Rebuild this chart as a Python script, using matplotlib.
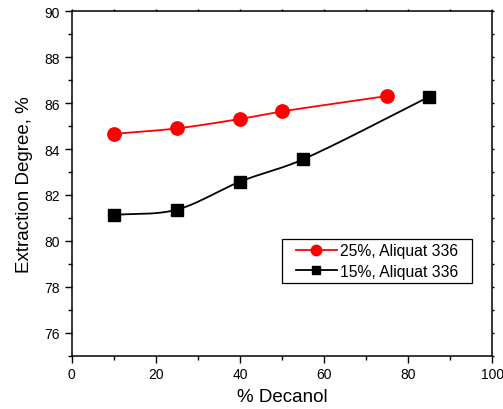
import numpy as np
import matplotlib
matplotlib.use("Agg")
import matplotlib.pyplot as plt
from matplotlib.ticker import MultipleLocator
from matplotlib.patches import Rectangle

plt.rcParams['font.family'] = ['Liberation Sans', 'DejaVu Sans']

# data
decanol_25 = [10, 25, 40, 50, 75]
extraction_25 = [84.66, 84.90, 85.31, 85.64, 86.31]
decanol_15 = [10, 25, 40, 55, 85]
extraction_15 = [81.13, 81.36, 82.58, 83.55, 86.28]
labels = ["25%, Aliquat 336", "15%, Aliquat 336"]


# hermite curve through the points (catmull-rom style tangents), only for the connecting line
def smooth_line(x, y, n=200):
    x = np.asarray(x, float)
    y = np.asarray(y, float)
    h = np.diff(x)
    m = np.empty_like(y)
    m[0] = (y[1] - y[0]) / h[0]
    m[-1] = (y[-1] - y[-2]) / h[-1]
    m[1:-1] = (y[2:] - y[:-2]) / (x[2:] - x[:-2])
    xs = np.linspace(x[0], x[-1], n)
    idx = np.clip(np.searchsorted(x, xs, side='right') - 1, 0, len(x) - 2)
    t = (xs - x[idx]) / h[idx]
    h00 = 2 * t ** 3 - 3 * t ** 2 + 1
    h10 = t ** 3 - 2 * t ** 2 + t
    h01 = -2 * t ** 3 + 3 * t ** 2
    h11 = t ** 3 - t ** 2
    ys = h00 * y[idx] + h10 * h[idx] * m[idx] + h01 * y[idx + 1] + h11 * h[idx] * m[idx + 1]
    return xs, ys


fig = plt.figure(figsize=(5.03, 4.10), dpi=100)
ax = fig.add_axes([0.1425, 0.13, 0.836, 0.84])

sx, sy = smooth_line(decanol_25, extraction_25)
ax.plot(sx, sy, color="red", lw=1.3)
ax.plot(decanol_25, extraction_25, "o", color="red", ms=9.6)
sx, sy = smooth_line(decanol_15, extraction_15)
ax.plot(sx, sy, color="black", lw=1.3)
ax.plot(decanol_15, extraction_15, "s", color="black", ms=8.6)

# legend: frame drawn by hand, entries placed inside it
ax.add_patch(Rectangle((0.500, 0.211), 0.452, 0.128, transform=ax.transAxes,
                       fill=True, facecolor="white", edgecolor="black", lw=0.9, zorder=4))
h1, = ax.plot([], [], "-o", color="red", ms=7.5, lw=1.3)
h2, = ax.plot([], [], "-s", color="black", ms=5.5, lw=1.3)
ax.legend([h1, h2], labels, loc="center left", bbox_to_anchor=(0.533, 0.275),
          borderaxespad=0, borderpad=0, frameon=False, fontsize=11.3,
          handlelength=2.6, handletextpad=0.2, labelspacing=0.35)

ax.set_xlim(0, 100)
ax.set_ylim(75, 90)
ax.xaxis.set_major_locator(MultipleLocator(20))
ax.xaxis.set_minor_locator(MultipleLocator(10))
ax.yaxis.set_major_locator(MultipleLocator(2))
ax.yaxis.set_minor_locator(MultipleLocator(1))
ax.tick_params(which="both", direction="out", top=True, right=True, labelsize=10, width=1)
ax.tick_params(which="major", length=4.8)
ax.tick_params(which="minor", length=2.8)
# tiny ticks on the top and right frame
for tl in ax.xaxis.get_ticklines(minor=False)[1::2] + ax.xaxis.get_ticklines(minor=True)[1::2]:
    tl.set_markersize(1.2)
for tl in ax.yaxis.get_ticklines(minor=False)[1::2] + ax.yaxis.get_ticklines(minor=True)[1::2]:
    tl.set_markersize(1.2)
for s in ax.spines.values():
    s.set_linewidth(1.1)

ax.set_xlabel("% Decanol", fontsize=13.5, labelpad=5)
ax.set_ylabel("Extraction Degree, %", fontsize=13.5, labelpad=8)

fig.savefig("out.png", dpi=100)
